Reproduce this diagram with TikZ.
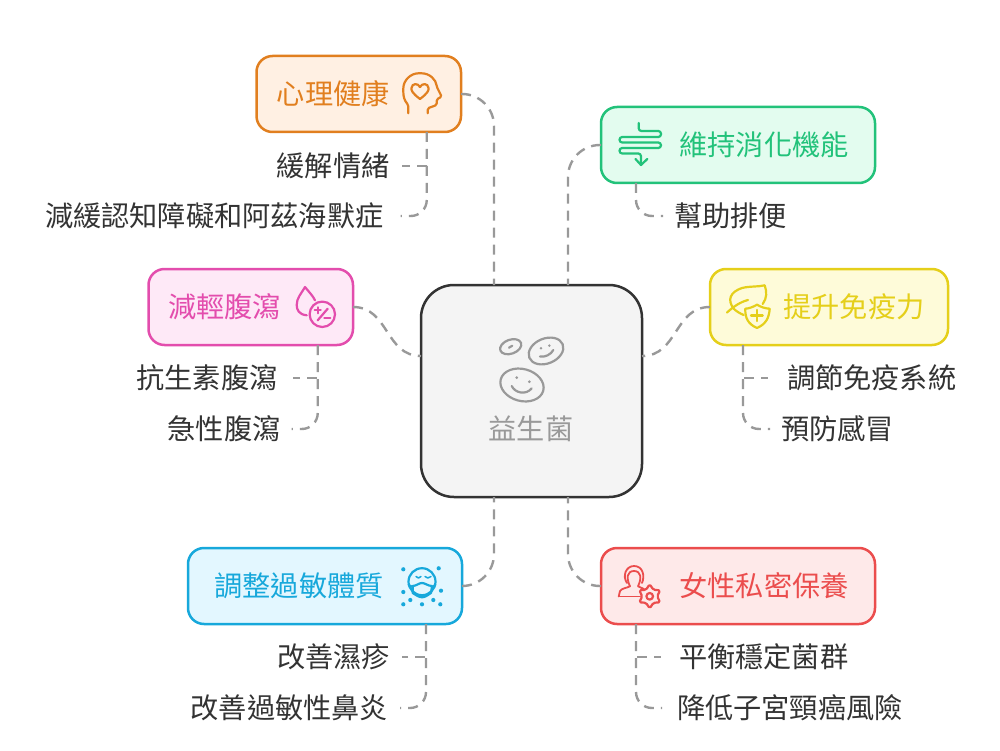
\documentclass[tikz,border=0pt]{standalone}
\usepackage{fontspec}
\setmainfont{Noto Sans CJK TC}
\usetikzlibrary{positioning}
\definecolor{inkdark}{HTML}{333333}
\definecolor{linkgray}{HTML}{999999}
\definecolor{hubfill}{HTML}{F4F4F4}
\definecolor{orangeline}{HTML}{E17F1F}
\definecolor{orangefill}{HTML}{FFF0E3}
\definecolor{greenline}{HTML}{22C27A}
\definecolor{greenfill}{HTML}{E3FCEF}
\definecolor{pinkline}{HTML}{E34DAD}
\definecolor{pinkfill}{HTML}{FEE9F7}
\definecolor{yellowline}{HTML}{E5CF1A}
\definecolor{yellowfill}{HTML}{FEFBD9}
\definecolor{blueline}{HTML}{17A8DB}
\definecolor{bluefill}{HTML}{E3F7FF}
\definecolor{redline}{HTML}{EB4D4D}
\definecolor{redfill}{HTML}{FEE9E9}
\tikzstyle{cjk} = [font=\fontsize{28.2}{30}\selectfont, text height=24.6pt, text depth=3.4pt, inner ysep=0pt, outer sep=0pt]
\tikzstyle{hub} = [draw=inkdark, fill=hubfill, rectangle, rounded corners=33pt, line width=2.5pt, minimum width=221pt, minimum height=212pt, outer sep=0pt]
\tikzstyle{branch} = [cjk, rectangle, rounded corners=16pt, line width=2.5pt, minimum height=76pt, inner xsep=0pt]
\tikzstyle{leaf} = [cjk, text=inkdark, minimum height=34pt, inner xsep=12pt]
\tikzstyle{link} = [draw=linkgray, line width=2.4pt, dash pattern=on 10pt off 7pt]
\tikzstyle{icon} = [line width=2.2pt, line cap=round, line join=round]
\begin{document}
\begin{tikzpicture}[x=1pt, y=-1pt]
    \useasboundingbox (0,0) rectangle (1000,751);
    \node [hub] (probiotic) at (531.5,391) {};
    \node [cjk, text=linkgray] (probiotictext) at (531,429) {益生菌};
    \node [branch, draw=orangeline, fill=orangefill, text=orangeline, minimum width=204.5pt, above left=153pt and -40pt of probiotic] (health) {心理健康\kern51pt};
    \node [branch, draw=greenline, fill=greenfill, text=greenline, minimum width=274pt, above right=102pt and -41pt of probiotic] (digest) {\kern52pt維持消化機能};
    \node [branch, draw=pinkline, fill=pinkfill, text=pinkline, minimum width=204.5pt, above left=-60pt and 68pt of probiotic] (diarrhea) {減輕腹瀉\kern52pt};
    \node [branch, draw=yellowline, fill=yellowfill, text=yellowline, minimum width=238pt, above right=-60pt and 68pt of probiotic] (immune) {\kern50pt提升免疫力};
    \node [branch, draw=blueline, fill=bluefill, text=blueline, minimum width=274pt, below left=51pt and -41pt of probiotic] (allergy) {調整過敏體質\kern52pt};
    \node [branch, draw=redline, fill=redfill, text=redline, minimum width=274pt, below right=51pt and -41pt of probiotic] (women) {\kern52pt女性私密保養};
    % leaves
    \node [leaf, below left=17pt and -145pt of health] (mood) {緩解情緒};
    \node [leaf, inner xsep=17pt, below left=67pt and -144pt of health] (dementia) {減緩認知障礙和阿茲海默症};
    \node [leaf, inner xsep=11pt, below right=16pt and -212pt of digest] (bowel) {幫助排便};
    \node [leaf, inner xsep=15pt, below left=16pt and -144pt of diarrhea] (antibiotic) {抗生素腹瀉};
    \node [leaf, inner xsep=11pt, below left=67pt and -143pt of diarrhea] (acute) {急性腹瀉};
    \node [leaf, inner xsep=19pt, below right=16pt and -180pt of immune] (regulate) {調節免疫系統};
    \node [leaf, inner xsep=11pt, below right=67pt and -178pt of immune] (cold) {預防感冒};
    \node [leaf, below left=16pt and -214pt of allergy] (eczema) {改善濕疹};
    \node [leaf, below left=67pt and -212pt of allergy] (rhinitis) {改善過敏性鼻炎};
    \node [leaf, inner xsep=18pt, below right=16pt and -214pt of women] (flora) {平衡穩定菌群};
    \node [leaf, inner xsep=15pt, below right=67pt and -213pt of women] (cancer) {降低子宮頸癌風險};
    % trunks of the leaves
    \coordinate (healthtrunk) at ([xshift=68pt]health.south);
    \coordinate (digesttrunk) at ([xshift=-102pt]digest.south);
    \coordinate (diarrheatrunk) at ([xshift=67pt]diarrhea.south);
    \coordinate (immunetrunk) at ([xshift=-86pt]immune.south);
    \coordinate (allergytrunk) at ([xshift=101pt]allergy.south);
    \coordinate (womentrunk) at ([xshift=-102pt]women.south);
    % hub to branches
    \draw [link, rounded corners=32pt] (health.east) -| ([xshift=-37.5pt]probiotic.north);
    \draw [link, rounded corners=32pt] (digest.west) -| ([xshift=36.5pt]probiotic.north);
    \draw [link] (diarrhea.east) .. controls +(36,0) and +(-36,0) .. ([yshift=35pt]probiotic.west);
    \draw [link] (immune.west) .. controls +(-36,0) and +(36,0) .. ([yshift=35pt]probiotic.east);
    \draw [link, rounded corners=32pt] (allergy.east) -| ([xshift=-37.5pt]probiotic.south);
    \draw [link, rounded corners=32pt] (women.west) -| ([xshift=36.5pt]probiotic.south);
    % branches to leaves
    \draw [link] (healthtrunk) |- (mood.east);
    \draw [link, rounded corners=16pt] (healthtrunk) |- (dementia.east);
    \draw [link, rounded corners=16pt] (digesttrunk) |- (bowel.west);
    \draw [link] (diarrheatrunk) |- (antibiotic.east);
    \draw [link, rounded corners=16pt] (diarrheatrunk) |- (acute.east);
    \draw [link] (immunetrunk) |- (regulate.west);
    \draw [link, rounded corners=16pt] (immunetrunk) |- (cold.west);
    \draw [link] (allergytrunk) |- (eczema.east);
    \draw [link, rounded corners=16pt] (allergytrunk) |- (rhinitis.east);
    \draw [link] (womentrunk) |- (flora.west);
    \draw [link, rounded corners=16pt] (womentrunk) |- (cancer.west);
    % hub icon
    \draw [icon, linkgray] (510.7,346.7) circle [x radius=11pt, y radius=7pt, rotate=20];
    \draw [icon, linkgray] (509,347.7) -- (512.3,345.7);
    \draw [icon, linkgray] (546,351) circle [x radius=18pt, y radius=12.5pt, rotate=22];
    \fill [linkgray] (541,348.3) circle (1.4pt) (549.3,345.6) circle (1.4pt);
    \draw [icon, linkgray] (540,356.5) .. controls (545,357.5) and (551,354.5) .. (553.3,350);
    \draw [icon, linkgray] (522,385) circle [x radius=22pt, y radius=16pt, rotate=-15];
    \fill [linkgray] (516.7,377.7) circle (1.5pt) (529.3,381.7) circle (1.5pt);
    \draw [icon, linkgray] (511.7,386) .. controls (515,393) and (526,395.5) .. (531.7,388.3);
    % head icon
    \draw [icon, orangeline, rounded corners=1.5pt] (408.3,113.3) -- (408.3,105) .. controls (404,100) and (403.3,96) .. (403.3,90) .. controls (403.3,80) and (411,73.3) .. (420,73.3) .. controls (430,73.3) and (436,80) .. (436.7,86.7) -- (441.7,96.7) -- (436.7,99.3) -- (436.7,105) -- (427.7,108.3) -- (427.7,113.3);
    \draw [icon, orangeline] (420,99) .. controls (412,93) and (411,90) .. (411.5,88) .. controls (412,83) and (418,83) .. (420,87) .. controls (422,83) and (428,83) .. (428.5,88) .. controls (429,90) and (428,93) .. (420,99) -- cycle;
    % gut icon
    \draw [icon, greenline, rounded corners=2.7pt] (638.7,123) -- (638.7,131) -- (661,131) -- (661,137) -- (619.5,137) -- (619.5,142.5) -- (661,142.5) -- (661,148) -- (619.5,148) -- (619.5,153.5) -- (641,153.5) -- (641,165);
    \draw [icon, greenline] (635.5,159) -- (641,165) -- (647.3,159);
    % drop icon
    \draw [icon, pinkline] (306.7,315.3) .. controls (299,314.5) and (296.7,310) .. (296.7,305) .. controls (296.7,298) and (301,294) .. (305,287) .. controls (309,292) and (313,296) .. (315,300.3);
    \draw [icon, pinkline] (322.3,314.3) circle (12.7pt);
    \draw [icon, pinkline] (327.7,308.7) -- (317.7,320.3);
    \draw [icon, pinkline] (314.7,310.3) -- (320.7,310.3) (317.7,307.3) -- (317.7,313.3);
    \draw [icon, pinkline] (324.3,317.7) -- (330.3,317.7);
    % leaf and shield icon
    \draw [icon, yellowline] (727,312.5) .. controls (733,307) and (740,302) .. (748,300);
    \draw [icon, yellowline] (743.7,315) .. controls (739,313) and (736,311) .. (733.7,308.7) .. controls (727,300) and (730,292) .. (742,288) .. controls (750,286) and (758,287) .. (764.7,285.3) .. controls (767,292) and (767,298) .. (762.7,304);
    \draw [icon, yellowline] (757,304.7) .. controls (753,307) and (749,308.5) .. (745.3,308.7) .. controls (745,318) and (748,324) .. (757,328) .. controls (766,324) and (769,318) .. (769.7,308.7) .. controls (765,308.5) and (761,307) .. (757,304.7) -- cycle;
    \draw [icon, yellowline] (751,315.5) -- (762.7,315.5) (757,310) -- (757,321);
    % mask icon
    \draw [icon, blueline] (422,581.7) circle (13.5pt);
    \draw [icon, blueline] (412.7,586) .. controls (416,586) and (419,583) .. (422,583) .. controls (425,583) and (428,586) .. (432,586) -- (431,593) .. controls (428,595) and (425,597.3) .. (422,597.3) .. controls (419,597.3) and (416,595) .. (412.7,593) -- cycle;
    \draw [icon, blueline] (408.7,585) -- (412.7,587) (435.3,585) -- (432,587);
    \draw [icon, blueline, line width=1.5pt] (416,576.5) .. controls (417.5,578.5) and (419.5,578.5) .. (421,576.5) (425,576.5) .. controls (426.5,578.5) and (429,578.5) .. (431,576.5);
    \foreach \dotx/\doty in {403.3/569.3, 438.7/568.3, 403.3/592, 441/590.7, 403.3/604.3, 410.3/600, 422/604.3, 433.3/600, 440.3/604.3}
        \fill [blueline] (\dotx,\doty) circle (2.1pt);
    % woman and gear icon
    \draw [icon, redline, line width=1.8pt] (627,583) .. controls (622,576) and (626,566) .. (634,566) .. controls (643,566) and (645,576) .. (642,583);
    \draw [icon, redline, line width=1.8pt] (618.7,596.5) -- (620,591) .. controls (622,588) and (627,588) .. (630,586.3) .. controls (626,578) and (627,571) .. (634,571) .. controls (641,571) and (642,578) .. (638,586.3) -- (644,589);
    \draw [icon, redline, line width=1.8pt] (618.7,596.5) -- (640,596.5);
    \draw [icon, redline, rounded corners=1.5pt, shift={(649.7,596.3)}] (90:12) -- (120:7.5) -- (150:12) -- (180:7.5) -- (210:12) -- (240:7.5) -- (270:12) -- (300:7.5) -- (330:12) -- (0:7.5) -- (30:12) -- (60:7.5) -- cycle;
    \draw [icon, redline] (649.7,596.3) circle (3.3pt);
\end{tikzpicture}
\end{document}
